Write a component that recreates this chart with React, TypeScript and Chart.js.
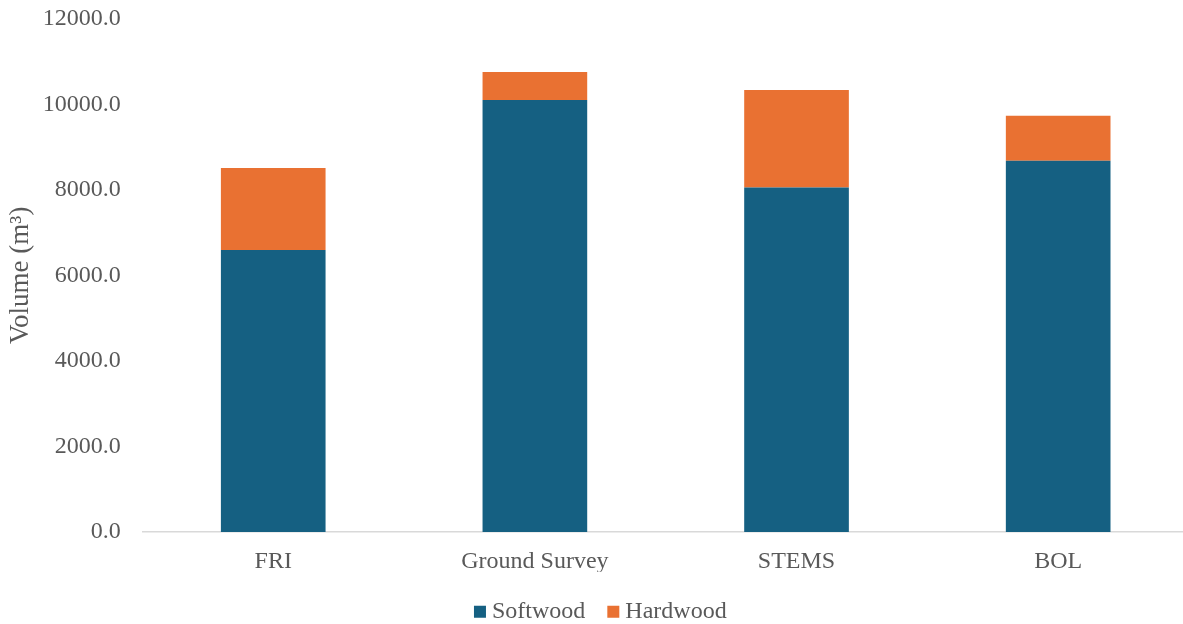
import React, { useEffect, useRef } from "react";
import { Chart, registerables } from "chart.js";

Chart.register(...registerables);

const categories = ["FRI", "Ground Survey", "STEMS", "BOL"];
const softwood = [6590, 10100, 8055, 8680];
const hardwood = [1918, 655, 2278, 1053];
const yTicks = [0, 2000, 4000, 6000, 8000, 10000, 12000];

const FONT = "'Liberation Serif', 'Times New Roman', serif";
const TEXT = "#595959";

const shiftLegend = {
  id: "shiftLegend",
  afterLayout(chart: any) {
    const lg = chart.legend;
    if (lg) {
      lg.left += 8.8;
      lg.right += 8.8;
    }
  },
};

export default function App() {
  const ref = useRef<HTMLCanvasElement | null>(null);

  useEffect(() => {
    document.body.style.margin = "0";
    const canvas = ref.current!;
    const chart = new Chart(canvas, {
      type: "bar",
      data: {
        labels: categories,
        datasets: [
          { label: "Softwood", data: softwood, backgroundColor: "#156082" },
          { label: "Hardwood", data: hardwood, backgroundColor: "#E97132" },
        ],
      },
      plugins: [shiftLegend],
      options: {
        responsive: false,
        animation: false,
        devicePixelRatio: 1,
        layout: { padding: { top: 0, right: 1, bottom: -9.7, left: 0 } },
        datasets: { bar: { categoryPercentage: 1, barPercentage: 0.4 } },
        plugins: {
          tooltip: { enabled: false },
          legend: {
            position: "bottom",
            labels: {
              color: TEXT,
              font: { family: FONT, size: 24 },
              usePointStyle: true,
              pointStyle: "rect",
              boxWidth: 0.01,
              boxHeight: 12,
              padding: 28,
            },
          },
        },
        scales: {
          x: {
            stacked: true,
            grid: { display: false, drawTicks: false },
            border: { display: true, color: "#D9D9D9", width: 1.5 },
            ticks: { color: TEXT, font: { family: FONT, size: 24 }, padding: 15 },
            afterFit: (s: any) => {
              s.height -= 19;
            },
          },
          y: {
            stacked: true,
            min: 0,
            max: 12000,
            afterBuildTicks: (s: any) => {
              s.ticks = yTicks.map((v) => ({ value: v }));
            },
            afterFit: (s: any) => {
              s.width = 142.4;
            },
            grid: { display: false, drawTicks: true, tickLength: 17.4 },
            border: { display: false },
            ticks: {
              color: TEXT,
              font: { family: FONT, size: 24 },
              padding: 4.3,
              callback: (v: any) => Number(v).toFixed(1),
            },
            title: {
              display: true,
              text: "Volume (m³)",
              color: TEXT,
              font: { family: FONT, size: 27 },
              padding: { top: 5, bottom: 0 },
            },
          },
        },
      },
    });
    return () => chart.destroy();
  }, []);

  return (
    <div style={{ width: 1183, height: 624, overflow: "hidden", position: "relative", background: "#fff" }}>
      <canvas ref={ref} width={1190} height={624} style={{ display: "block" }} />
    </div>
  );
}
